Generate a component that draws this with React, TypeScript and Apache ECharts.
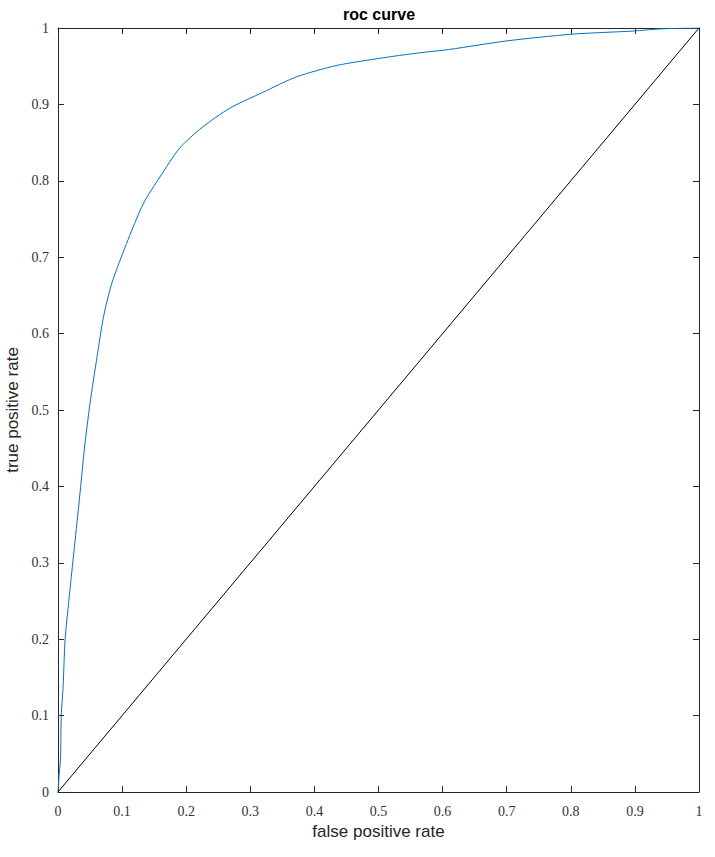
import React, { useEffect, useRef } from "react";
import * as echarts from "echarts";

const fpr = [0, 0.002, 0.004, 0.005, 0.008, 0.011, 0.017, 0.023, 0.030, 0.036, 0.041, 0.050, 0.061, 0.071, 0.084, 0.107, 0.133, 0.159, 0.190, 0.225, 0.268, 0.320, 0.372, 0.435, 0.507, 0.559, 0.611, 0.699, 0.803, 0.897, 0.943, 1.0];
const tpr = [0, 0.025, 0.045, 0.1, 0.138, 0.199, 0.251, 0.3, 0.356, 0.405, 0.448, 0.509, 0.570, 0.622, 0.666, 0.718, 0.770, 0.805, 0.843, 0.870, 0.895, 0.916, 0.936, 0.951, 0.961, 0.967, 0.972, 0.983, 0.992, 0.996, 0.999, 1.0];
const diagX = [0, 1];
const diagY = [0, 1];
const chartTitle = "roc curve";
const xTitle = "false positive rate";
const yTitle = "true positive rate";

const fmt = (v: number) => String(parseFloat(v.toFixed(1)));

export default function App() {
  const ref = useRef<HTMLDivElement>(null);
  useEffect(() => {
    if (!ref.current) return;
    const chart = echarts.init(ref.current, null, { renderer: "svg" });
    const axisColor = "#262626";
    const labelStyle = {
      color: "#333333",
      fontFamily: '"Liberation Serif", serif',
      fontSize: 14,
    };
    const common = {
      type: "value" as const,
      min: 0,
      max: 1,
      interval: 0.1,
      splitLine: { show: false },
      axisLine: { show: true, onZero: false, lineStyle: { color: axisColor, width: 1 } },
      axisTick: { show: true, inside: true, length: 6, lineStyle: { color: axisColor, width: 1 } },
    };
    chart.setOption({
      animation: false,
      backgroundColor: "#ffffff",
      grid: { left: 58, right: 16, top: 28, bottom: 65, containLabel: false, outerBoundsMode: "none" },
      graphic: [
        {
          type: "text",
          x: 379,
          y: 14,
          style: {
            text: chartTitle,
            textAlign: "center",
            textVerticalAlign: "middle",
            font: 'bold 16px "Liberation Sans", Arial, sans-serif',
            fill: "#000",
          },
        },
      ],
      xAxis: [
        {
          ...common,
          position: "bottom",
          axisLabel: { ...labelStyle, margin: 12, formatter: fmt },
          name: xTitle,
          nameLocation: "middle",
          nameGap: 31,
          nameTextStyle: { color: axisColor, fontFamily: '"Liberation Sans", Arial, sans-serif', fontSize: 17 },
        },
        {
          ...common,
          position: "top",
          axisLabel: { show: false },
        },
      ],
      yAxis: [
        {
          ...common,
          position: "left",
          axisLabel: { ...labelStyle, margin: 9, formatter: fmt },
          name: yTitle,
          nameLocation: "middle",
          nameGap: 31,
          nameTextStyle: { color: axisColor, fontFamily: '"Liberation Sans", Arial, sans-serif', fontSize: 17 },
        },
        {
          ...common,
          position: "right",
          axisLabel: { show: false },
        },
      ],
      series: [
        {
          type: "line",
          xAxisIndex: 0,
          yAxisIndex: 0,
          data: fpr.map((x, i) => [x, tpr[i]]),
          showSymbol: false,
          symbol: "none",
          smooth: 0.25,
          lineStyle: { color: "#0072BD", width: 1 },
          silent: true,
        },
        {
          type: "line",
          xAxisIndex: 0,
          yAxisIndex: 0,
          data: diagX.map((x, i) => [x, diagY[i]]),
          showSymbol: false,
          symbol: "none",
          lineStyle: { color: "#000000", width: 1 },
          silent: true,
        },
      ],
    });
    return () => chart.dispose();
  }, []);
  return (
    <div
      ref={ref}
      style={{ position: "fixed", left: 0, top: 0, width: 715, height: 857, background: "#fff" }}
    />
  );
}
